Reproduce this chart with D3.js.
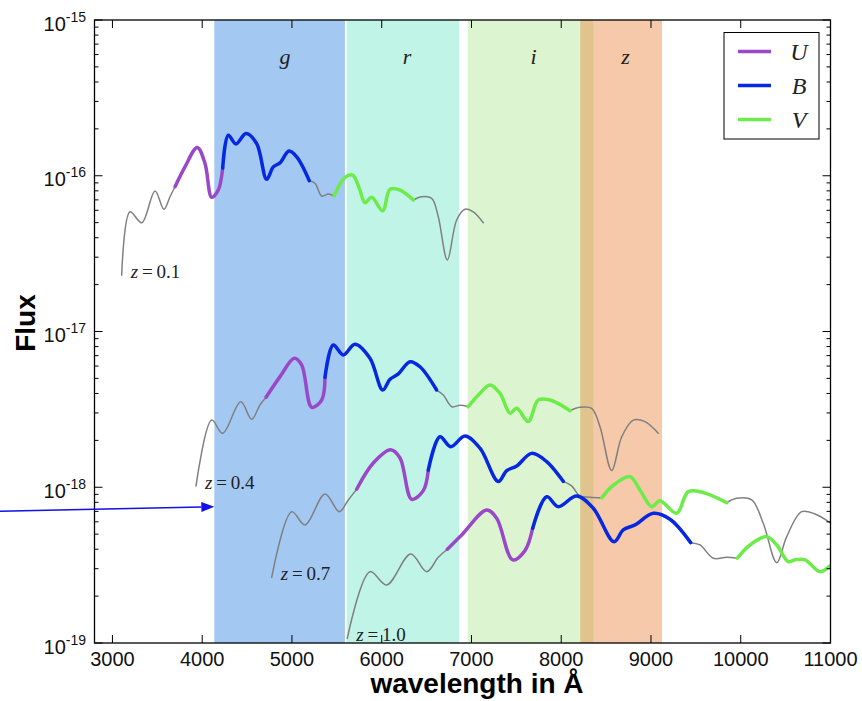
<!DOCTYPE html>
<html>
<head>
<meta charset="utf-8">
<script src="https://cdn.jsdelivr.net/npm/d3@7"></script>
<style>
  body { margin: 0; background: #fff; }
  svg { display: block; }
</style>
</head>
<body>
<div id="chart"></div>
<script>
// Data -------------------------------------
// photometric bands (Angstrom)
var bandNames = ['g', 'r', 'i', 'z'];
var bandStart = [4135, 5610, 6958, 8212];
var bandEnd = [5590, 6861, 8357, 9123];

// filters shown in the legend
var filterNames = ['U', 'B', 'V'];

// redshift labels, one per spectrum
var redshifts = ['0.1', '0.4', '0.7', '1.0'];

// spectrum z=0.1 ('-' = no filter, U/B/V = segment inside that filter)
var z01Wave = [3103, 3196, 3326, 3474, 3574, 3641, 3697, 3808, 3945, 4031, 4106, 4179, 4228, 4291, 4376, 4488, 4607, 4718, 4792, 4867, 4967, 5053, 5193, 5257, 5331, 5405, 5468, 5591, 5677, 5750, 5814, 5888, 6011, 6092, 6204, 6352, 6445, 6557, 6630, 6731, 6835, 6928, 7020, 7132];
var z01Flux = [2.30e-17, 5.87e-17, 4.99e-17, 7.98e-17, 6.09e-17, 7.33e-17, 8.50e-17, 1.14e-16, 1.52e-16, 1.20e-16, 7.27e-17, 8.09e-17, 1.12e-16, 1.82e-16, 1.60e-16, 1.87e-16, 1.61e-16, 9.48e-17, 1.14e-16, 1.21e-16, 1.44e-16, 1.32e-16, 9.29e-17, 8.94e-17, 7.41e-17, 7.63e-17, 7.41e-17, 9.77e-17, 1.01e-16, 8.30e-17, 6.71e-17, 7.27e-17, 5.96e-17, 8.18e-17, 8.09e-17, 6.98e-17, 7.33e-17, 7.16e-17, 5.46e-17, 2.88e-17, 5.20e-17, 6.09e-17, 5.87e-17, 4.99e-17];
var z01Filter = '------UUUUUUBBBBBBBBBB----VVVVVVVVV---------';

// spectrum z=0.4
var z04Wave = [3931, 4106, 4228, 4429, 4551, 4644, 4711, 4867, 5026, 5108, 5220, 5331, 5368, 5460, 5572, 5702, 5869, 6011, 6092, 6185, 6315, 6426, 6612, 6686, 6780, 6872, 6964, 7095, 7206, 7318, 7429, 7504, 7633, 7744, 7875, 8098, 8209, 8339, 8432, 8562, 8674, 8803, 8933, 9081];
var z04Flux = [1.02e-18, 2.70e-18, 2.22e-18, 3.54e-18, 2.73e-18, 3.38e-18, 3.78e-18, 5.13e-18, 6.73e-18, 6.10e-18, 3.26e-18, 3.63e-18, 5.08e-18, 8.19e-18, 7.07e-18, 8.28e-18, 6.73e-18, 4.21e-18, 4.93e-18, 5.34e-18, 6.40e-18, 5.94e-18, 4.21e-18, 3.91e-18, 3.29e-18, 3.36e-18, 3.29e-18, 4.01e-18, 4.54e-18, 4.01e-18, 2.99e-18, 3.21e-18, 2.64e-18, 3.63e-18, 3.63e-18, 3.10e-18, 3.26e-18, 3.21e-18, 2.45e-18, 1.28e-18, 2.11e-18, 2.70e-18, 2.64e-18, 2.22e-18];
var z04Filter = '------UUUUUUBBBBBBBBBB----VVVVVVVVV---------';

// spectrum z=0.7
var z07Wave = [4774, 4997, 5145, 5368, 5527, 5628, 5721, 5906, 6100, 6204, 6334, 6463, 6519, 6649, 6768, 6928, 7095, 7299, 7392, 7504, 7671, 7838, 8023, 8116, 8209, 8320, 8451, 8580, 8766, 8877, 9008, 9100, 9286, 9416, 9583, 9843, 9955, 10122, 10251, 10401, 10512, 10679, 10827, 10994];
var z07Flux = [2.64e-19, 6.97e-19, 5.73e-19, 9.06e-19, 6.97e-19, 8.29e-19, 9.71e-19, 1.43e-18, 1.74e-18, 1.54e-18, 8.37e-19, 9.51e-19, 1.29e-18, 2.11e-18, 1.82e-18, 2.13e-18, 1.78e-18, 1.09e-18, 1.28e-18, 1.37e-18, 1.65e-18, 1.46e-18, 1.09e-18, 1.02e-18, 8.79e-19, 8.63e-19, 8.54e-19, 1.03e-18, 1.17e-18, 9.61e-19, 7.51e-19, 8.20e-19, 6.81e-19, 9.37e-19, 9.23e-19, 7.96e-19, 8.50e-19, 8.29e-19, 5.87e-19, 3.28e-19, 4.82e-19, 6.97e-19, 6.74e-19, 5.93e-19];
var z07Filter = '------UUUUUUBBBBBBBBBB----VVVVVVVVV---------';

// spectrum z=1.0
var z10Wave = [5616, 5869, 6055, 6323, 6501, 6630, 6731, 6891, 7170, 7281, 7459, 7596, 7682, 7838, 7967, 8172, 8357, 8588, 8691, 8822, 9026, 9212, 9442, 9546, 9694, 9843, 9961, 10103, 10289, 10401, 10530, 10604, 10716, 10883, 10994];
var z10Flux = [1.07e-19, 2.87e-19, 2.36e-19, 3.73e-19, 2.87e-19, 3.55e-19, 4.00e-19, 4.94e-19, 7.15e-19, 6.32e-19, 3.42e-19, 3.92e-19, 5.46e-19, 8.70e-19, 7.51e-19, 8.79e-19, 7.33e-19, 4.47e-19, 5.32e-19, 5.73e-19, 6.81e-19, 6.23e-19, 4.41e-19, 4.26e-19, 3.50e-19, 3.55e-19, 3.50e-19, 4.26e-19, 4.82e-19, 4.26e-19, 3.33e-19, 3.42e-19, 3.42e-19, 2.87e-19, 3.13e-19];
var z10Filter = '------UUUUUUBBBBBBBBBB----VVVVVVVVV';

// axes
var xTicks = [3000, 4000, 5000, 6000, 7000, 8000, 9000, 10000, 11000];
var yDecades = [-19, -18, -17, -16, -15];

// arrow pointing at the g band edge
var arrowTip = [4135, 7.5e-19];

// Styles -------------------------------------
var width = 862;
var height = 701;
var plot = { left: 94.5, right: 830.5, top: 20, bottom: 643 };

var bandColors = { g: '#1976de', r: '#61e3c0', i: '#a7e689', z: '#e67828' };
var filterColors = { '-': '#808080', U: '#9a48c8', B: '#0628e0', V: '#6cec48' };
var serif = '"Liberation Serif", "DejaVu Serif", serif';
var sans = '"Liberation Sans", Arial, sans-serif';

// Scales -------------------------------------
var x = d3.scaleLinear().domain([2800, 11000]).range([plot.left, plot.right]);
var y = d3.scaleLog().domain([1e-19, 1e-15]).range([plot.bottom, plot.top]);

var svg = d3.select('#chart')
  .append('svg')
  .attr('width', width)
  .attr('height', height);

svg.append('clipPath')
  .attr('id', 'plot-clip')
  .append('rect')
  .attr('x', plot.left)
  .attr('y', plot.top)
  .attr('width', plot.right - plot.left)
  .attr('height', plot.bottom - plot.top);

// Bands -------------------------------------
var bands = bandNames.map(function(name, i) {
  return { name: name, start: bandStart[i], end: bandEnd[i] };
});

svg.append('g')
  .selectAll('rect')
  .data(bands)
  .enter()
  .append('rect')
  .attr('x', function(d) { return x(d.start); })
  .attr('y', plot.top)
  .attr('width', function(d) { return x(d.end) - x(d.start); })
  .attr('height', plot.bottom - plot.top)
  .attr('fill', function(d) { return bandColors[d.name]; })
  .attr('fill-opacity', 0.4);

// band labels, left edge at the band centre
svg.append('g')
  .selectAll('text')
  .data(bands)
  .enter()
  .append('text')
  .attr('x', function(d) { return x((d.start + d.end) / 2); })
  .attr('y', 64)
  .style('font-family', serif)
  .style('font-style', 'italic')
  .style('font-size', '22px')
  .style('fill', '#222')
  .text(function(d) { return d.name; });

// Spectra -------------------------------------
var spectra = [
  { z: redshifts[0], wave: z01Wave, flux: z01Flux, filter: z01Filter },
  { z: redshifts[1], wave: z04Wave, flux: z04Flux, filter: z04Filter },
  { z: redshifts[2], wave: z07Wave, flux: z07Flux, filter: z07Filter },
  { z: redshifts[3], wave: z10Wave, flux: z10Flux, filter: z10Filter }
];

// split one spectrum into runs of equal filter
function segments(s) {
  var segs = [];
  var cur = null;
  for (var i = 0; i < s.wave.length - 1; i++) {
    var f = s.filter[i];
    if (!cur || cur.filter !== f) {
      cur = { filter: f, points: [[s.wave[i], s.flux[i]]] };
      segs.push(cur);
    }
    cur.points.push([s.wave[i + 1], s.flux[i + 1]]);
  }
  return segs;
}

var allSegs = [];
spectra.forEach(function(s) {
  allSegs = allSegs.concat(segments(s));
});
// grey parts first, coloured ones on top
var greySegs = allSegs.filter(function(d) { return d.filter === '-'; });
var colourSegs = allSegs.filter(function(d) { return d.filter !== '-'; });

var line = d3.line()
  .x(function(d) { return x(d[0]); })
  .y(function(d) { return y(d[1]); })
  .curve(d3.curveCatmullRom.alpha(0.5));

var curves = svg.append('g').attr('clip-path', 'url(#plot-clip)');

curves.selectAll('path.grey')
  .data(greySegs)
  .enter()
  .append('path')
  .attr('class', 'grey')
  .attr('d', function(d) { return line(d.points); })
  .attr('fill', 'none')
  .attr('stroke', filterColors['-'])
  .attr('stroke-width', 1.5)
  .attr('stroke-linecap', 'round');

curves.selectAll('path.filter')
  .data(colourSegs)
  .enter()
  .append('path')
  .attr('class', 'filter')
  .attr('d', function(d) { return line(d.points); })
  .attr('fill', 'none')
  .attr('stroke', function(d) { return filterColors[d.filter]; })
  .attr('stroke-width', 3.5)
  .attr('stroke-linecap', 'round')
  .attr('stroke-linejoin', 'round');

// redshift labels next to the start of each spectrum
var zLabels = svg.append('g')
  .selectAll('text')
  .data(spectra)
  .enter()
  .append('text')
  .attr('x', function(d) { return x(d.wave[0]) + 9; })
  .attr('y', function(d) { return y(d.flux[0]) + 3; })
  .style('font-family', serif)
  .style('font-size', '19px')
  .style('fill', '#222');
zLabels.append('tspan').style('font-style', 'italic').text('z');
zLabels.append('tspan').text(function(d) { return '\u2009=\u2009' + d.z; });

// Frame and ticks -------------------------------------
svg.append('rect')
  .attr('x', plot.left)
  .attr('y', plot.top)
  .attr('width', plot.right - plot.left)
  .attr('height', plot.bottom - plot.top)
  .attr('fill', 'none')
  .attr('stroke', '#000')
  .attr('stroke-width', 1.3);

var ticks = svg.append('g').attr('stroke', '#000').attr('stroke-width', 1);

// x ticks, inward on top and bottom
xTicks.forEach(function(t) {
  ticks.append('line').attr('x1', x(t)).attr('x2', x(t)).attr('y1', plot.bottom).attr('y2', plot.bottom - 8);
  ticks.append('line').attr('x1', x(t)).attr('x2', x(t)).attr('y1', plot.top).attr('y2', plot.top + 8);
});

svg.append('g')
  .selectAll('text')
  .data(xTicks)
  .enter()
  .append('text')
  .attr('x', function(d) { return x(d); })
  .attr('y', 666)
  .attr('text-anchor', 'middle')
  .style('font-family', sans)
  .style('font-size', '20px')
  .style('fill', '#111')
  .text(function(d) { return d; });

// y ticks, major and minor, on both sides
yDecades.forEach(function(e, k) {
  for (var m = 1; m <= 9; m++) {
    if (m > 1 && k === yDecades.length - 1) break;
    var v = m * Math.pow(10, e);
    var len = m === 1 ? 8 : 4;
    ticks.append('line').attr('x1', plot.left).attr('x2', plot.left + len).attr('y1', y(v)).attr('y2', y(v));
    ticks.append('line').attr('x1', plot.right).attr('x2', plot.right - len).attr('y1', y(v)).attr('y2', y(v));
  }
});

var yLabels = svg.append('g')
  .selectAll('text')
  .data(yDecades)
  .enter()
  .append('text')
  .attr('x', 86)
  .attr('y', function(d) { return y(Math.pow(10, d)) + 10.5; })
  .attr('text-anchor', 'end')
  .style('font-family', sans)
  .style('fill', '#111');
yLabels.append('tspan').style('font-size', '20px').text('10');
yLabels.append('tspan')
  .attr('dy', -9)
  .style('font-size', '14px')
  .text(function(d) { return String(d); });

// Axis titles -------------------------------------
svg.append('text')
  .attr('x', 477)
  .attr('y', 693)
  .attr('text-anchor', 'middle')
  .style('font-family', sans)
  .style('font-weight', 'bold')
  .style('font-size', '28px')
  .text('wavelength in \u00c5');

svg.append('text')
  .attr('transform', 'translate(35,323) rotate(-90)')
  .attr('text-anchor', 'middle')
  .style('font-family', sans)
  .style('font-weight', 'bold')
  .style('font-size', '28px')
  .text('Flux');

// Legend -------------------------------------
var legend = svg.append('g').attr('transform', 'translate(724,32.5)');
legend.append('rect')
  .attr('width', 95)
  .attr('height', 106.5)
  .attr('fill', '#fff')
  .attr('stroke', '#000')
  .attr('stroke-width', 1);

var items = legend.selectAll('g.item')
  .data(filterNames)
  .enter()
  .append('g')
  .attr('class', 'item')
  .attr('transform', function(d, i) { return 'translate(0,' + (19 + i * 34) + ')'; });
items.append('line')
  .attr('x1', 14).attr('x2', 47)
  .attr('stroke', function(d) { return filterColors[d]; })
  .attr('stroke-width', 3.5);
items.append('text')
  .attr('x', 75)
  .attr('y', 8)
  .attr('text-anchor', 'middle')
  .style('font-family', serif)
  .style('font-style', 'italic')
  .style('font-size', '24px')
  .style('fill', '#222')
  .text(function(d) { return d; });

// Arrow -------------------------------------
var tipX = x(arrowTip[0]);
var tipY = y(arrowTip[1]);
var tailX = 0;
var tailY = tipY + 4.5;
var ang = Math.atan2(tipY - tailY, tipX - tailX);
var headLen = 13;
var headW = 5;
var baseX = tipX - headLen * Math.cos(ang);
var baseY = tipY - headLen * Math.sin(ang);

svg.append('line')
  .attr('x1', tailX).attr('y1', tailY)
  .attr('x2', baseX).attr('y2', baseY)
  .attr('stroke', '#1010e8')
  .attr('stroke-width', 1.5);
svg.append('path')
  .attr('d', 'M' + tipX + ',' + tipY +
    'L' + (baseX + headW * Math.sin(ang)) + ',' + (baseY - headW * Math.cos(ang)) +
    'L' + (baseX - headW * Math.sin(ang)) + ',' + (baseY + headW * Math.cos(ang)) + 'Z')
  .attr('fill', '#1010e8');
</script>
</body>
</html>
